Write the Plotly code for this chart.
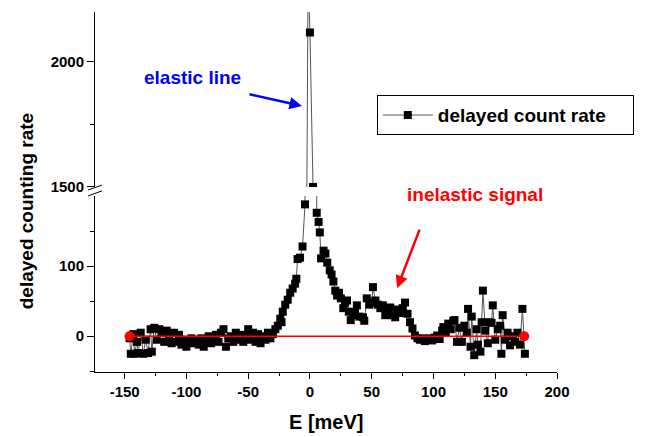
import plotly.graph_objects as go

# Energy (meV) and delayed counting rate
energy = [-146, -145, -143, -142, -140, -139, -137, -135, -133, -131, -129, -128,
          -126, -124, -122, -120, -118, -116, -114, -112, -110, -108, -106, -104,
          -102, -100, -98, -96, -94, -92, -90, -88, -86, -84, -82, -80, -78, -76,
          -74, -72, -70, -68, -66, -64, -62, -60, -58, -56, -54, -52, -50, -48,
          -46, -44, -42, -40, -38, -36, -34, -32, -30, -28, -26, -24, -23, -22,
          -20, -18, -16, -14, -12, -11, -10, -8, -6, -4, -1.5, 0, 2.5, 5.5, 7,
          8, 9, 11, 12.5, 14, 16, 17.5, 19, 20.5, 22, 23.5, 25, 27, 28.5, 30,
          31.5, 33, 35, 36.5, 38, 40, 43, 44, 46, 48, 50, 51, 53, 55, 57, 59,
          61, 63, 65, 67, 69, 71, 73, 75, 77, 79, 81, 83, 85, 87, 89, 91, 93,
          95, 97, 99, 101, 103, 105, 107, 108, 110, 112, 114, 116, 117, 119, 121,
          123, 125, 127, 128, 130, 131, 133, 135, 136, 138, 139, 140, 142, 144,
          145, 147, 148, 150, 152, 154, 155, 156, 158, 160, 162, 164, 166, 168,
          170, 172, 174]
rate = [-3, -25, 3, -25, -8, -24, 5, -25, -5, -24, 10, -22,
        12, -5, 10, 5, -8, 8, 0, -10, 5, -8, 2, -12,
        -5, -15, -8, -3, -10, -5, -12, -3, -15, -8, 0, -10, -5, 2,
        -8, 5, 10, -15, -3, 0, -8, 5, -5, 2, -8, 0, 10, -5,
        5, -8, 3, -10, 0, -5, 5, -3, 3, 10, 15, 25, 20, 35,
        45, 52, 62, 68, 75, 82, 110, 112, 128, 188, 2350, 2118, 1500, 176, 163,
        148, 111, 122, 118, 105, 94, 88, 78, 65, 58, 62, 54, 40, 48, 51,
        35, 23, 30, 34, 44, 28, 27, 22, 54, 45, 48, 70, 51, 45, 40, 44,
        30, 38, 41, 30, 27, 38, 33, 40, 48, 32, 20, 11, 1, -3, -5, -3, -7,
        -4, -3, -6, -2, 1, -4, 8, 13, 5, 18, 10, 22, 23, -8, 12,
        -8, 15, 5, 39, -15, 28, -27, 10, -12, -22, 20, 65, 8, -10,
        20, 19, 44, -5, 10, 15, -25, 30, -5, 5, -13, 0, -8, 5,
        -12, 39, -25]

baseline_x = [-146, 173.5]
baseline_y = [0, 0]

x_ticks = [-150, -100, -50, 0, 50, 100, 150, 200]
y_low_ticks = [0, 100]
y_high_ticks = [1500, 2000]

FONT = "Liberation Sans, Arial, sans-serif"

def bold(vals):
    return ["<b>%s</b>" % v for v in vals]

fig = go.Figure()
fig.add_trace(go.Scatter(
    x=energy, y=rate, mode="lines+markers",
    name="<b>delayed count rate</b>&nbsp;&nbsp;&nbsp;&nbsp;",
    line=dict(color="#555555", width=1),
    marker=dict(symbol="square", size=8, color="black"),
    yaxis="y", showlegend=True))
fig.add_trace(go.Scatter(
    x=energy, y=rate, mode="lines+markers", name="delayed count rate",
    line=dict(color="#555555", width=1),
    marker=dict(symbol="square", size=8, color="black"),
    yaxis="y2", showlegend=False))
fig.add_trace(go.Scatter(
    x=baseline_x, y=baseline_y, mode="lines+markers",
    line=dict(color="red", width=1.5),
    marker=dict(symbol="circle", size=10, color="red"),
    yaxis="y", showlegend=False))

tickfont = dict(family=FONT, size=15, color="black")

# page body has an 8px margin: the figure is sized so that the plot area
# lands at x 95..557, y 12..372 of the window
fig.update_layout(
    width=637, height=429,
    margin=dict(l=87, r=88, t=4, b=65),
    paper_bgcolor="white", plot_bgcolor="white",
    font=dict(family=FONT, color="black"),
    xaxis=dict(range=[-174, 200], tickvals=x_ticks, ticktext=bold(x_ticks),
               showgrid=False, zeroline=False,
               showline=True, linecolor="black", linewidth=1,
               ticks="outside", ticklen=6, tickcolor="black", tickfont=tickfont,
               minor=dict(dtick=25, tick0=0, ticks="outside", ticklen=3, tickcolor="black"),
               anchor="y"),
    yaxis=dict(domain=[0, 0.489], range=[-51, 200], tickvals=y_low_ticks,
               ticktext=bold(y_low_ticks),
               showgrid=False, zeroline=False, showline=True, linecolor="black",
               linewidth=1, ticks="outside", ticklen=7, tickcolor="black",
               tickfont=tickfont,
               minor=dict(tickvals=[-50, 50, 150], ticks="outside", ticklen=4,
                          tickcolor="black")),
    yaxis2=dict(domain=[0.514, 1], range=[1500, 2200], tickvals=y_high_ticks,
                ticktext=bold(y_high_ticks),
                showgrid=False, zeroline=False, showline=True, linecolor="black",
                linewidth=1, ticks="outside", ticklen=7, tickcolor="black",
                tickfont=tickfont, anchor="x",
                minor=dict(tickvals=[1750], ticks="outside", ticklen=4,
                           tickcolor="black")),
    legend=dict(x=0.61, y=0.769, xanchor="left", yanchor="top",
                bordercolor="black", borderwidth=1, bgcolor="white",
                font=dict(family=FONT, size=19),
                itemwidth=50, tracegroupgap=0),
    showlegend=True,
)

# axis titles
fig.add_annotation(text="<b>delayed counting rate</b>", xref="paper", yref="paper",
                   x=-0.149, y=0.447, textangle=-90, showarrow=False,
                   xanchor="center", yanchor="middle",
                   font=dict(family=FONT, size=19))
fig.add_annotation(text="<b>E [meV]</b>", xref="paper", yref="paper",
                   x=0.5, y=-0.139, showarrow=False, xanchor="center", yanchor="middle",
                   font=dict(family=FONT, size=20))
# labels
fig.add_annotation(text="<b>elastic line</b>", xref="paper", yref="paper", x=0.21, y=0.819,
                   xanchor="center", yanchor="middle",
                   showarrow=False, font=dict(family=FONT, size=19, color="blue"))
fig.add_annotation(text="<b>inelastic signal</b>", xref="paper", yref="paper", x=0.8225, y=0.4917,
                   xanchor="center", yanchor="middle",
                   showarrow=False, font=dict(family=FONT, size=19, color="red"))
# arrows
fig.add_annotation(text="", xref="paper", yref="paper", x=0.448, y=0.739,
                   ax=-54, ay=-12, axref="pixel", ayref="pixel", showarrow=True,
                   arrowhead=2, arrowsize=1, arrowwidth=2.5, arrowcolor="blue", standoff=0)
fig.add_annotation(text="", xref="paper", yref="paper", x=0.654, y=0.233,
                   ax=23, ay=-60, axref="pixel", ayref="pixel", showarrow=True,
                   arrowhead=2, arrowsize=1, arrowwidth=2.5, arrowcolor="red", standoff=0)

# axis break marks
for y0, y1 in [(0.5056, 0.519), (0.489, 0.503)]:
    fig.add_shape(type="line", xref="paper", yref="paper", x0=-0.015, x1=0.015,
                  y0=y0, y1=y1, line=dict(color="black", width=1))

fig.write_html("out.html")
